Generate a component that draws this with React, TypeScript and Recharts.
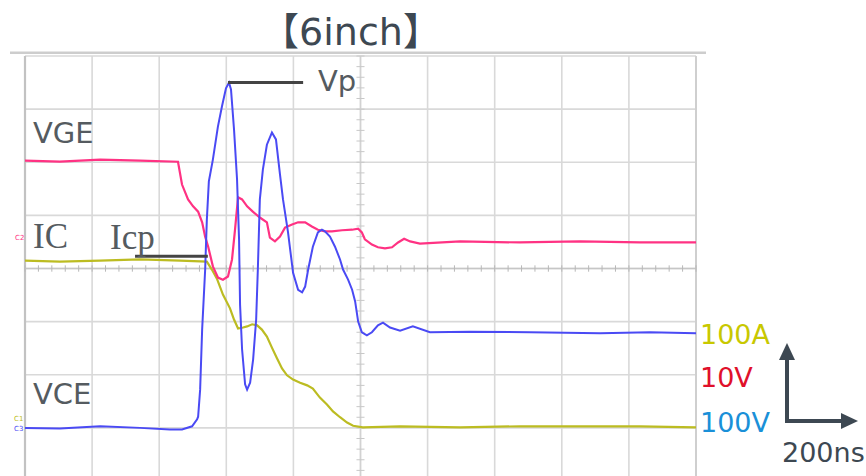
import { LineChart, Line, XAxis, YAxis, CartesianGrid, ReferenceLine } from 'recharts'

// time in ns (200 ns/div), amplitude in screen divisions (center = 0)
const vgeT = [0, 104, 224, 343, 456, 468, 486, 501, 516, 528, 537, 546, 560, 575, 590, 605, 617, 626, 635, 647, 662, 679, 700, 721, 730, 745, 760, 775, 796, 814, 835, 855, 873, 894, 915, 945, 975, 993, 1004, 1013, 1034, 1052, 1073, 1094, 1112, 1130, 1148, 1177, 1297, 1475, 1654, 1833, 2000]
const vgeV = [2.03, 2.01, 2.05, 2.03, 2.01, 1.58, 1.3, 1.17, 1.07, 0.87, 0.6, 0.41, 0.04, -0.17, -0.21, -0.15, 0.17, 0.73, 1.34, 1.3, 1.17, 1.07, 0.96, 0.87, 0.58, 0.51, 0.6, 0.77, 0.83, 0.87, 0.87, 0.79, 0.73, 0.7, 0.7, 0.72, 0.73, 0.75, 0.68, 0.55, 0.45, 0.4, 0.38, 0.4, 0.49, 0.56, 0.51, 0.47, 0.51, 0.49, 0.51, 0.49, 0.49]

const vceT = [0, 104, 224, 343, 432, 468, 498, 513, 516, 522, 528, 537, 542, 548, 560, 575, 587, 599, 608, 614, 623, 632, 638, 641, 647, 656, 662, 671, 680, 689, 694, 700, 709, 721, 736, 748, 760, 769, 784, 799, 814, 826, 835, 844, 858, 873, 885, 894, 909, 924, 939, 948, 963, 975, 984, 993, 1004, 1019, 1034, 1052, 1067, 1088, 1118, 1156, 1207, 1326, 1505, 1714, 1863, 2000]
const vceV = [-3.0, -3.01, -2.97, -3.0, -3.03, -3.03, -2.97, -2.84, -2.79, -2.28, -1.15, -0.02, 0.92, 1.64, 2.05, 2.67, 3.05, 3.39, 3.5, 3.37, 2.62, 1.68, 0.55, -0.68, -1.52, -2.18, -2.28, -2.15, -1.71, -0.96, -0.02, 1.3, 1.86, 2.33, 2.56, 2.43, 1.77, 1.3, 0.68, -0.08, -0.4, -0.45, -0.34, -0.02, 0.41, 0.68, 0.73, 0.7, 0.6, 0.41, 0.17, -0.02, -0.21, -0.4, -0.62, -1.0, -1.2, -1.26, -1.2, -1.07, -1.02, -1.11, -1.17, -1.09, -1.2, -1.19, -1.2, -1.22, -1.2, -1.22]

const icT = [0, 104, 224, 343, 462, 542, 557, 572, 590, 611, 623, 635, 650, 662, 677, 692, 706, 721, 736, 751, 766, 781, 799, 820, 841, 858, 879, 900, 918, 939, 960, 978, 1007, 1118, 1297, 1475, 1654, 1833, 2000]
const icV = [0.15, 0.13, 0.15, 0.17, 0.15, 0.13, -0.02, -0.19, -0.49, -0.75, -0.96, -1.13, -1.11, -1.09, -1.05, -1.07, -1.15, -1.28, -1.49, -1.69, -1.88, -2.01, -2.09, -2.15, -2.2, -2.26, -2.43, -2.56, -2.69, -2.8, -2.9, -2.96, -2.99, -2.97, -2.99, -2.97, -2.97, -2.97, -2.99]

const xTicks = [0, 200, 400, 600, 800, 1000, 1200, 1400, 1600, 1800, 2000]
const yTicks = [-4, -3, -2, -1, 0, 1, 2, 3, 4]
const minorT = Array.from({ length: 51 }, (_, i) => i * 40)
const minorY = Array.from({ length: 41 }, (_, i) => -4 + i * 0.2)

// annotation markers: Vp peak, Icp level
const vpMark = { t0: 605, t1: 829, v: 3.5 }
const icpMark = { t0: 328, t1: 545, v: 0.23 }

const toRows = (t: number[], v: number[]) => t.map((x, i) => ({ t: x, v: v[i] }))

const vge = toRows(vgeT, vgeV)
const vce = toRows(vceT, vceV)
const ic = toRows(icT, icV)

const DARK = '#3d4852'
const LABEL = '#555b60'

export default function App() {
  return (
    <div style={{ position: 'absolute', left: 0, top: 0, width: 866, height: 476, overflow: 'hidden', background: '#fff' }}>
      <LineChart width={866} height={490} margin={{ top: 56, right: 170, bottom: 9, left: 25 }}>
        <CartesianGrid stroke="#d9d9d9" strokeWidth={1.6} />
        <XAxis type="number" dataKey="t" domain={[0, 2000]} ticks={xTicks} hide allowDataOverflow />
        <YAxis type="number" domain={[-4, 4]} ticks={yTicks} hide allowDataOverflow />
        <ReferenceLine x={0} stroke="#c2c2c2" strokeWidth={2.2} />
        <ReferenceLine x={2000} stroke="#cfcfcf" strokeWidth={2} />
        <ReferenceLine y={0} stroke="#c6c6c6" strokeWidth={1.4} />
        <ReferenceLine x={1000} stroke="#d2d2d2" strokeWidth={1.4} />
        {minorT.map((m) => (
          <ReferenceLine key={`mt${m}`} segment={[{ x: m, y: -0.06 }, { x: m, y: 0.06 }]} stroke="#b8b8b8" strokeWidth={1} />
        ))}
        {minorY.map((m) => (
          <ReferenceLine key={`my${m}`} segment={[{ x: 988, y: m }, { x: 1012, y: m }]} stroke="#c8c8c8" strokeWidth={1} />
        ))}
        <Line data={ic} dataKey="v" type="linear" stroke="#bcbc22" strokeWidth={2.2} dot={false} isAnimationActive={false} />
        <Line data={vge} dataKey="v" type="linear" stroke="#ff3283" strokeWidth={2.2} dot={false} isAnimationActive={false} />
        <Line data={vce} dataKey="v" type="linear" stroke="#4a4af4" strokeWidth={2} dot={false} isAnimationActive={false} />
        <ReferenceLine segment={[{ x: vpMark.t0, y: vpMark.v }, { x: vpMark.t1, y: vpMark.v }]} stroke="#444" strokeWidth={3} />
        <ReferenceLine segment={[{ x: icpMark.t0, y: icpMark.v }, { x: icpMark.t1, y: icpMark.v }]} stroke="#444" strokeWidth={3} />
      </LineChart>

      <svg width={866} height={476} style={{ position: 'absolute', left: 0, top: 0, pointerEvents: 'none' }}>
        <rect x={10} y={51.5} width={696} height={2.5} fill="#cdcdcd" />
        <text x={351} y={45} textAnchor="middle" fontSize={38} fill={DARK} fontFamily="'DejaVu Sans', 'Noto Sans CJK JP', sans-serif">【6inch】</text>

        <g fontFamily="'DejaVu Sans', sans-serif" fill={LABEL}>
          <text x={33} y={143} fontSize={29}>VGE</text>
          <text x={318} y={91} fontSize={29}>Vp</text>
          <text x={33} y={404} fontSize={29}>VCE</text>
        </g>
        <g fontFamily="'Liberation Serif', serif" fill={LABEL}>
          <text x={33} y={248} fontSize={35}>IC</text>
          <text x={110} y={249} fontSize={35}>Icp</text>
        </g>

        {/* channel ground markers */}
        <g fontFamily="'DejaVu Sans', sans-serif" fontSize={7}>
          <text x={15} y={240} fill="#ff3283">C2</text>
          <text x={14} y={421} fill="#bcbc22">C1</text>
          <text x={14} y={431} fill="#4a4af4">C3</text>
        </g>

        <g fontFamily="'DejaVu Sans', sans-serif" fontSize={27}>
          <text x={700} y={344} fill="#c8c800">100A</text>
          <text x={700} y={387} fill="#e0102a">10V</text>
          <text x={700} y={432} fill="#1a90d8">100V</text>
          <text x={782} y={462} fill={DARK}>200ns</text>
        </g>

        <g stroke={DARK} strokeWidth={4} fill={DARK}>
          <line x1={787} y1={423} x2={787} y2={356} />
          <line x1={785} y1={421} x2={845} y2={421} />
          <polygon points="787,343 779,360 795,360" stroke="none" />
          <polygon points="858,421 841,413 841,429" stroke="none" />
        </g>
      </svg>
    </div>
  )
}
